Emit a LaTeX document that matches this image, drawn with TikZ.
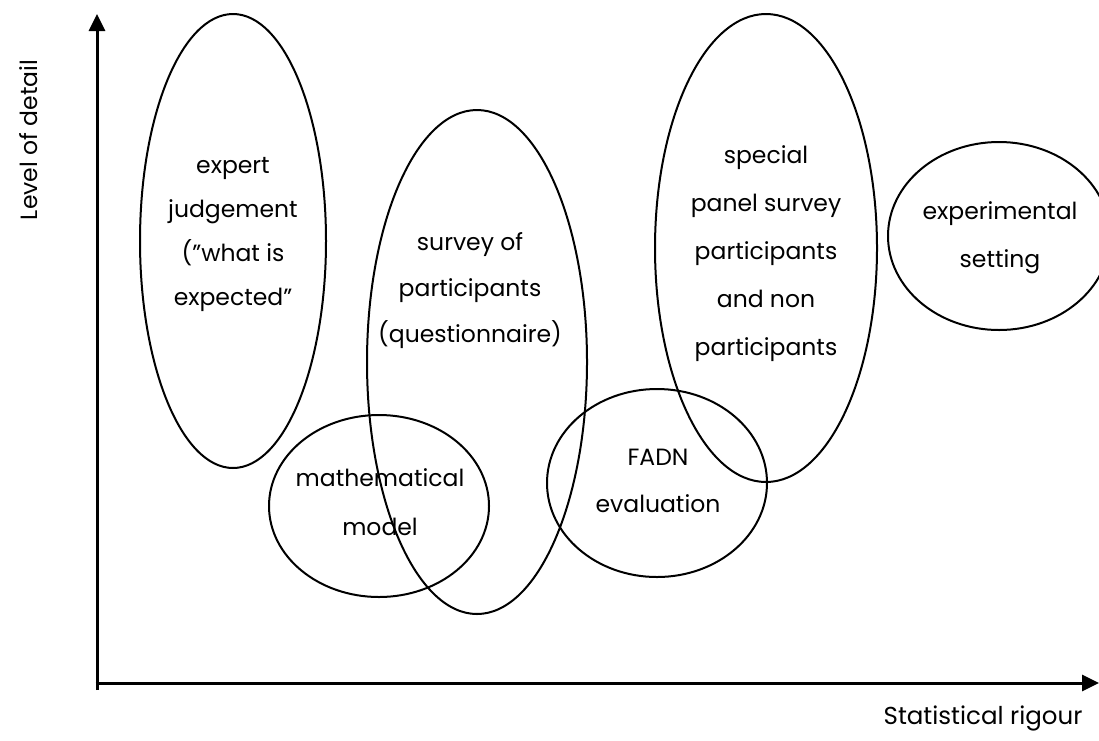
\documentclass[tikz,border=0pt]{standalone}
\usepackage{fontspec}
\setmainfont{Poppins}
\usetikzlibrary{arrows.meta,shapes.geometric}
\tikzset{
  blob/.style={ellipse, draw, line width=2pt, inner sep=0pt},
  lbl/.style={align=center, inner sep=0pt, font=\fontsize{23.5}{#1}\selectfont},
  axis/.style={line width=3pt, -{Triangle[length=17pt,width=16pt]}},
}
\begin{document}
\begin{tikzpicture}[x=1pt,y=-1pt]
\useasboundingbox (0,0) rectangle (1099,740);
% ellipses
\node[blob, minimum width=186pt, minimum height=454pt] (e1) at (233,241) {};
\node[blob, minimum width=220pt, minimum height=504pt] (e2) at (477,362) {};
\node[blob, minimum width=220pt, minimum height=182pt] (e3) at (379,506) {};
\node[blob, minimum width=220pt, minimum height=188pt] (e4) at (657,483) {};
\node[blob, minimum width=222pt, minimum height=468pt] (e5) at (766,248) {};
\node[blob, minimum width=222pt, minimum height=188pt] (e6) at (999,236) {};
% labels
\node[lbl=44pt] (t1) at (233,234) {expert\\judgement\\("what is\\expected"};
\node[lbl=46pt] (t2) at (470,291) {survey of\\participants\\(questionnaire)};
\node[lbl=49pt] (t3) at (380,502) {mathematical\\model};
\node[lbl=47pt] (t4) at (658,481) {FADN\\evaluation};
\node[lbl=48pt] (t5) at (766,254) {special\\panel survey\\participants\\and non\\participants};
\node[lbl=48pt] (t6) at (1000,238) {experimental\\setting};
% axes
\coordinate (o) at (97,683);
\coordinate (ytop) at (97,14);
\coordinate (xend) at (1099,683);
\draw[axis] (97,690) -- (ytop);
\draw[axis] (95.5,683) -- (xend);
\node[lbl=28pt, rotate=90] (yl) at (29,140) {Level of detail};
\node[lbl=28pt, font=\fontsize{24.5}{28}\selectfont] (xl) at (983,718) {Statistical rigour};
\end{tikzpicture}
\end{document}
